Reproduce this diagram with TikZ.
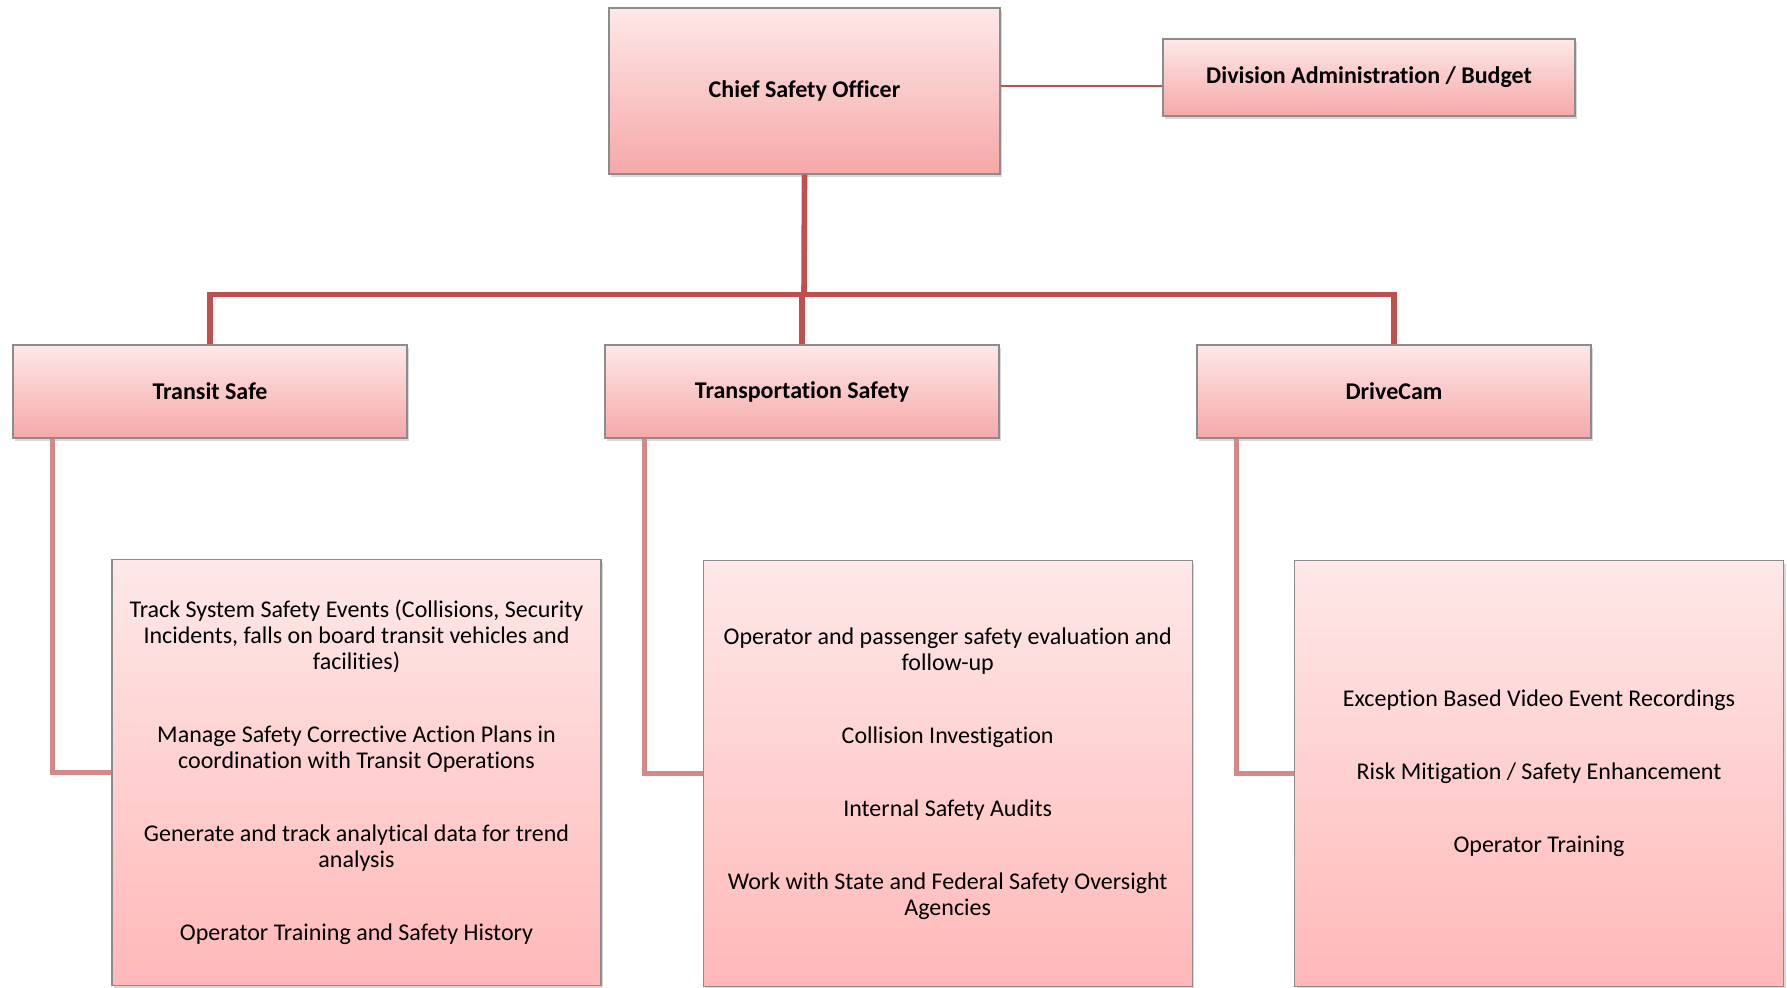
\documentclass[tikz,border=0pt]{standalone}
\usepackage{fontspec}
\setmainfont{Carlito}[Ligatures={NoCommon,NoContextual,NoRare}]
\usetikzlibrary{shadows}
\definecolor{boxtop}{RGB}{254,232,232}
\definecolor{boxbottom}{RGB}{246,168,168}
\definecolor{listbottom}{RGB}{255,184,184}
\definecolor{boxline}{RGB}{140,140,140}
\definecolor{busred}{RGB}{192,80,77}
\definecolor{elbowred}{RGB}{212,136,136}
\tikzset{
  unitbox/.style={draw=boxline, line width=0.6pt, top color=boxtop, bottom color=boxbottom,
    inner sep=0pt, font=\fontsize{12}{13}\selectfont\bfseries,
    drop shadow={shadow xshift=1pt, shadow yshift=-1.5pt, opacity=0.3}},
  listbox/.style={unitbox, bottom color=listbottom, align=center,
    minimum width=244.5pt, minimum height=213pt, font=\fontsize{12}{13}\selectfont},
  bus/.style={draw=busred, line width=2.8pt},
  elbow/.style={draw=elbowred, line width=2.2pt}
}
\begin{document}
\begin{tikzpicture}[x=0.5pt,y=-0.5pt]
    \useasboundingbox (0,0) rectangle (1787,987);
      \node[unitbox, minimum width=195.5pt, minimum height=83pt] (Chief) at (804.5, 91) {Chief Safety Officer};
      \node[unitbox, minimum width=206pt, minimum height=38.5pt] (Div) at (1369, 77.5) {Division Administration / Budget};
      \node[unitbox, minimum width=197pt, minimum height=46.5pt] (Ts) at (210, 391.5) {Transit Safe};
      \node[unitbox, minimum width=197pt, minimum height=46.5pt] (Tp) at (802, 391.5) {Transportation Safety};
      \node[unitbox, minimum width=197pt, minimum height=46.5pt] (Dc) at (1394, 391.5) {DriveCam};
      \node[listbox] (TsList) at (356.5, 772.5) {Track System Safety Events (Collisions, Security\\
        Incidents, falls on board transit vehicles and\\
        facilities)\\[23.5pt]
        Manage Safety Corrective Action Plans in\\
        coordination with Transit Operations\\[23.5pt]
        Generate and track analytical data for trend\\
        analysis\\[23.5pt]
        Operator Training and Safety History};
      \node[listbox] (TpList) at (947.7, 773.5) {Operator and passenger safety evaluation and\\
        follow-up\\[23.5pt]
        Collision Investigation\\[23.5pt]
        Internal Safety Audits\\[23.5pt]
        Work with State and Federal Safety Oversight\\
        Agencies};
      \node[listbox] (DcList) at (1539, 773.5) {Exception Based Video Event Recordings\\[23.5pt]
        Risk Mitigation / Safety Enhancement\\[23.5pt]
        Operator Training};
      \coordinate (J) at (804, 294.5);
      \draw[busred, line width=1pt] ([yshift=-4pt]Div.west -| Chief.east) -- ([yshift=-4pt]Div.west);
      \draw[bus] (Chief.south) -- (J);
      \draw[bus] (Ts.north) |- (Dc.north |- J) -- (Dc.north);
      \draw[bus] (Tp.north) -- (Tp.north |- J);
      \draw[elbow] ([xshift=20pt]Ts.south west) |- (TsList.west);
      \draw[elbow] ([xshift=20pt]Tp.south west) |- (TpList.west);
      \draw[elbow] ([xshift=20pt]Dc.south west) |- (DcList.west);
\end{tikzpicture}
\end{document}
